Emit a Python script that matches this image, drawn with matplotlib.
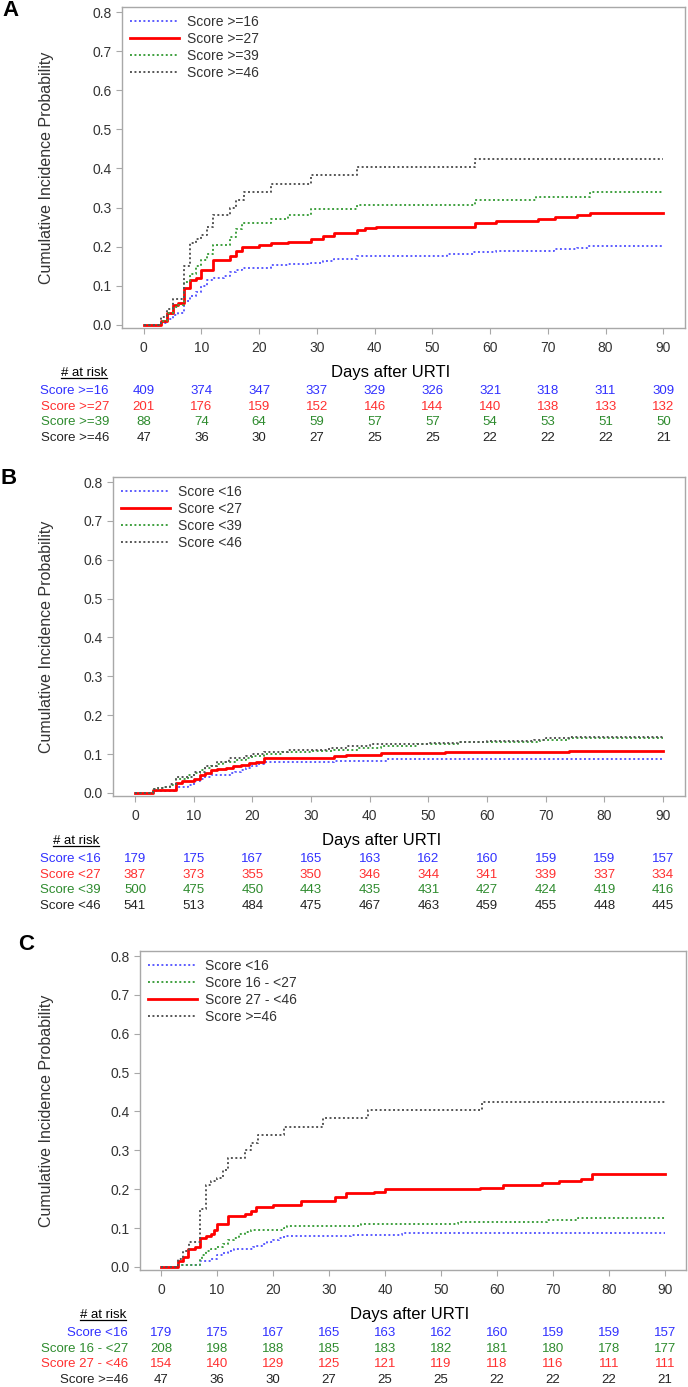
import matplotlib
matplotlib.use('Agg')
import matplotlib.pyplot as plt
from matplotlib import font_manager
from matplotlib.lines import Line2D
from matplotlib.transforms import blended_transform_factory

# ---------------- data ----------------
risk_days = [0, 10, 20, 30, 40, 50, 60, 70, 80, 90]

# panel A curves (step change points)
ge16_t = [0, 3, 4, 5, 6, 7, 8, 9, 10, 11, 12, 14, 15, 16, 17, 22, 25, 29, 31, 33, 37, 52.6, 57, 61, 68, 71, 75, 77, 90]
ge16_v = [0, 0.005, 0.015, 0.025, 0.03, 0.06, 0.075, 0.085, 0.1, 0.115, 0.12, 0.125, 0.135, 0.14, 0.146, 0.152, 0.155,
          0.158, 0.163, 0.168, 0.177, 0.18, 0.186, 0.188, 0.19, 0.193, 0.197, 0.203, 0.203]
ge27_t = [0, 3, 4, 5, 6, 7, 8, 9, 10, 12, 15, 16, 17, 20, 22, 25, 29, 31, 33, 37, 38.4, 40.2, 57.4, 61, 68.3, 71.2, 75.1, 77.3, 90]
ge27_v = [0, 0.01, 0.03, 0.05, 0.055, 0.095, 0.115, 0.12, 0.14, 0.165, 0.175, 0.19, 0.2, 0.205, 0.21, 0.213, 0.22,
          0.228, 0.235, 0.242, 0.248, 0.25, 0.26, 0.265, 0.27, 0.275, 0.28, 0.285, 0.285]
ge39_t = [0, 3, 4, 5, 6, 7, 8, 9, 10, 11, 12, 15, 16, 17, 22, 25, 29, 37, 57.3, 68, 77.3, 90]
ge39_v = [0, 0.01, 0.03, 0.045, 0.05, 0.11, 0.13, 0.15, 0.165, 0.18, 0.205, 0.225, 0.245, 0.26, 0.27, 0.28, 0.297,
          0.307, 0.32, 0.328, 0.339, 0.339]
ge46_t = [0, 3, 4, 5, 7, 8, 9, 10, 11, 12, 15, 16, 17.4, 22, 29, 37, 57.3, 90]
ge46_v = [0, 0.02, 0.04, 0.065, 0.15, 0.21, 0.22, 0.23, 0.25, 0.28, 0.3, 0.32, 0.34, 0.36, 0.383, 0.405, 0.424, 0.424]

# panel B curves
lt16_t = [0, 3, 7, 9, 10, 11, 12, 13, 16.5, 17, 18, 19, 20, 21, 22, 34, 43, 90]
lt16_v = [0, 0.005, 0.015, 0.02, 0.03, 0.035, 0.04, 0.045, 0.05, 0.055, 0.06, 0.065, 0.07, 0.075, 0.08, 0.083, 0.088, 0.088]
lt27_t = [0, 3, 7, 8, 10, 11, 12, 13, 14, 15.5, 16.7, 18, 19.5, 20.7, 22, 34, 36, 42, 52.8, 69, 74, 90]
lt27_v = [0, 0.008, 0.025, 0.03, 0.035, 0.045, 0.05, 0.058, 0.062, 0.065, 0.07, 0.073, 0.077, 0.08, 0.09, 0.094,
          0.097, 0.102, 0.104, 0.105, 0.108, 0.108]
lt39_t = [0, 3, 4, 5, 6, 7, 9, 10, 11, 12, 13, 14, 15, 17, 19, 20, 22, 25, 30, 34, 38, 42, 48, 55, 60, 69, 74, 90]
lt39_v = [0, 0.01, 0.012, 0.015, 0.02, 0.035, 0.045, 0.05, 0.058, 0.065, 0.07, 0.075, 0.08, 0.085, 0.09, 0.095, 0.1,
          0.105, 0.108, 0.11, 0.115, 0.12, 0.125, 0.13, 0.132, 0.136, 0.14, 0.14]
lt46_t = [0, 3, 4, 5, 6, 7, 10, 12, 14, 16, 19, 20, 22, 26, 33, 36, 40, 50, 55, 60, 68, 70, 74, 90]
lt46_v = [0, 0.01, 0.012, 0.016, 0.022, 0.04, 0.055, 0.07, 0.08, 0.09, 0.095, 0.1, 0.105, 0.11, 0.115, 0.12, 0.125,
          0.128, 0.13, 0.133, 0.137, 0.14, 0.145, 0.145]

# panel C curves (Score <16 and Score >=46 are the same groups as above)
s16_27_t = [0, 3, 7, 7.3, 8, 9, 10, 11, 12, 13, 14, 15, 16, 22, 22.5, 35.8, 53, 69, 74.4, 90]
s16_27_v = [0, 0.005, 0.02, 0.03, 0.04, 0.045, 0.05, 0.06, 0.07, 0.075, 0.085, 0.09, 0.095, 0.1, 0.105, 0.11, 0.115,
            0.12, 0.125, 0.125]
s27_46_t = [0, 3, 4, 4.8, 6, 7, 8, 9, 9.5, 10, 12, 15, 16, 17, 20, 25, 31, 33, 38, 40, 57, 61, 68, 71, 75, 77, 90]
s27_46_v = [0, 0.015, 0.025, 0.045, 0.05, 0.075, 0.08, 0.085, 0.095, 0.11, 0.13, 0.135, 0.145, 0.155, 0.16, 0.17,
            0.18, 0.19, 0.194, 0.2, 0.204, 0.21, 0.216, 0.222, 0.227, 0.24, 0.24]

# numbers at risk
risk_ge16 = [409, 374, 347, 337, 329, 326, 321, 318, 311, 309]
risk_ge27 = [201, 176, 159, 152, 146, 144, 140, 138, 133, 132]
risk_ge39 = [88, 74, 64, 59, 57, 57, 54, 53, 51, 50]
risk_ge46 = [47, 36, 30, 27, 25, 25, 22, 22, 22, 21]
risk_lt16 = [179, 175, 167, 165, 163, 162, 160, 159, 159, 157]
risk_lt27 = [387, 373, 355, 350, 346, 344, 341, 339, 337, 334]
risk_lt39 = [500, 475, 450, 443, 435, 431, 427, 424, 419, 416]
risk_lt46 = [541, 513, 484, 475, 467, 463, 459, 455, 448, 445]
risk_16_27 = [208, 198, 188, 185, 183, 182, 181, 180, 178, 177]
risk_27_46 = [154, 140, 129, 125, 121, 119, 118, 116, 111, 111]

# ---------------- style ----------------
W, H, DPI = 688, 1387, 100
BLUE, RED, GREEN, GRAY = '#5c5cff', '#ff0000', '#3fa03f', '#555555'
T_BLUE, T_RED, T_GREEN, T_BLACK = '#3030ff', '#ff3030', '#2e8b2e', '#222222'
SPINE = '#a8a8a8'
TXT = '#333333'

names = {f.name for f in font_manager.fontManager.ttflist}
FONT = 'Liberation Sans'
NARROW = 'Liberation Sans Narrow' if 'Liberation Sans Narrow' in names else FONT
TABLE_SIZE = 11.5 if NARROW != FONT else 9.5
plt.rcParams['font.family'] = FONT

DOT = dict(linestyle=(0, (1, 1.3)), linewidth=1.4)
SOLID = dict(linestyle='-', linewidth=2.0)

fig = plt.figure(figsize=(W / DPI, H / DPI), dpi=DPI)
renderer = fig.canvas.get_renderer()


def px_axes(left, top, right, bottom):
    return fig.add_axes([left / W, 1 - bottom / H, (right - left) / W, (bottom - top) / H])


def fy(ypx):
    return 1 - ypx / H


def panel(letter, box, letter_xy, curves, rows, label_right, xlabel_x):
    left, top, right, bottom = box
    ax = px_axes(left, top, right, bottom)
    for t, v, color, style, label in curves:
        ax.step(t, v, where='post', color=color, label=label, **style)
    ax.set_xlim(-3.75, 93.75)
    ax.set_ylim(-0.008, 0.813)
    ax.set_xticks(risk_days)
    ax.set_yticks([0, 0.1, 0.2, 0.3, 0.4, 0.5, 0.6, 0.7, 0.8])
    ax.set_yticklabels(['%.1f' % y for y in ax.get_yticks()])
    for s in ax.spines.values():
        s.set_color(SPINE)
        s.set_linewidth(1.0)
    ax.tick_params(direction='out', length=4.5, width=0.8, color=SPINE, labelcolor=TXT, labelsize=10)
    ax.tick_params(axis='x', pad=5)
    ax.tick_params(axis='y', pad=3)
    leg = ax.legend(loc='upper left', bbox_to_anchor=(0.0, 1.0), frameon=False, fontsize=10,
                    handlelength=3.5, handletextpad=0.6, labelspacing=0.2, borderaxespad=0.3, borderpad=0.3)
    for txt in leg.get_texts():
        txt.set_color(TXT)

    # y label
    fig.text(47 / W, fy((top + bottom) / 2), 'Cumulative Incidence Probability', rotation=90,
             ha='center', va='center', fontsize=11.5, color=TXT)
    # panel letter
    fig.text(letter_xy[0] / W, fy(letter_xy[1]), letter, fontsize=16, fontweight='bold',
             ha='left', va='center', color='black')

    # x label and risk table
    fig.text(xlabel_x / W, fy(bottom + 45), 'Days after URTI', ha='center', va='center',
             fontsize=12, color='black')
    head = fig.text((label_right - 2) / W, fy(bottom + 45), '# at risk', ha='right', va='center',
                    fontsize=TABLE_SIZE, family=NARROW, color='black')
    bb = head.get_window_extent(renderer)
    uy = (bb.y0 + 1) / H
    fig.add_artist(Line2D([bb.x0 / W, bb.x1 / W], [uy, uy], color='black', linewidth=0.9))

    trans = blended_transform_factory(ax.transData, fig.transFigure)
    for i, (name, counts, color) in enumerate(rows):
        yy = fy(bottom + 63 + i * 15.7)
        fig.text(label_right / W, yy, name, ha='right', va='center', fontsize=TABLE_SIZE,
                 family=NARROW, color=color)
        for d, n in zip(risk_days, counts):
            ax.text(d, yy, str(n), transform=trans, ha='center', va='center', fontsize=TABLE_SIZE,
                    family=NARROW, color=color, clip_on=False)
    return ax


panel('A', (122, 7, 685, 328), (2, 11),
      [(ge16_t, ge16_v, BLUE, DOT, 'Score >=16'),
       (ge27_t, ge27_v, RED, SOLID, 'Score >=27'),
       (ge39_t, ge39_v, GREEN, DOT, 'Score >=39'),
       (ge46_t, ge46_v, GRAY, DOT, 'Score >=46')],
      [('Score >=16', risk_ge16, T_BLUE),
       ('Score >=27', risk_ge27, T_RED),
       ('Score >=39', risk_ge39, T_GREEN),
       ('Score >=46', risk_ge46, T_BLACK)],
      109, 391)

panel('B', (113, 477, 685, 796), (1, 478),
      [(lt16_t, lt16_v, BLUE, DOT, 'Score <16'),
       (lt27_t, lt27_v, RED, SOLID, 'Score <27'),
       (lt39_t, lt39_v, GREEN, DOT, 'Score <39'),
       (lt46_t, lt46_v, GRAY, DOT, 'Score <46')],
      [('Score <16', risk_lt16, T_BLUE),
       ('Score <27', risk_lt27, T_RED),
       ('Score <39', risk_lt39, T_GREEN),
       ('Score <46', risk_lt46, T_BLACK)],
      101, 382)

panel('C', (140, 951, 686, 1270), (18, 944),
      [(lt16_t, lt16_v, BLUE, DOT, 'Score <16'),
       (s16_27_t, s16_27_v, GREEN, DOT, 'Score 16 - <27'),
       (s27_46_t, s27_46_v, RED, SOLID, 'Score 27 - <46'),
       (ge46_t, ge46_v, GRAY, DOT, 'Score >=46')],
      [('Score <16', risk_lt16, T_BLUE),
       ('Score 16 - <27', risk_16_27, T_GREEN),
       ('Score 27 - <46', risk_27_46, T_RED),
       ('Score >=46', risk_ge46, T_BLACK)],
      128, 410)

fig.savefig('out.png', dpi=DPI)
